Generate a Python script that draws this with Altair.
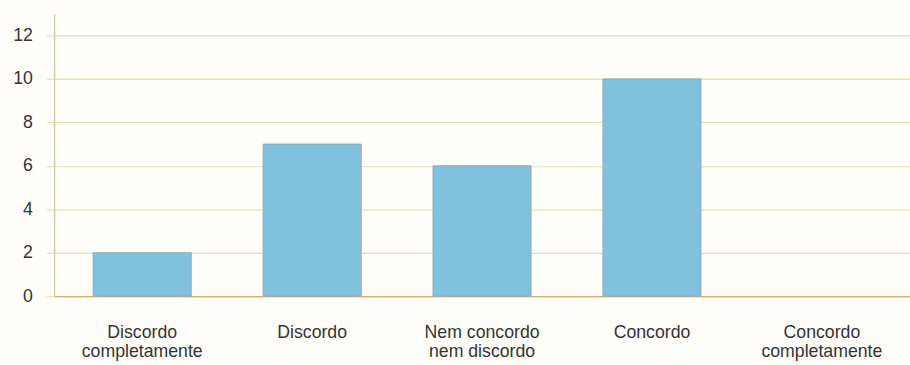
import altair as alt
import pandas as pd

categories = ["Discordo|completamente", "Discordo", "Nem concordo|nem discordo", "Concordo", "Concordo|completamente"]
values = [2, 7, 6, 10, 0]

df = pd.DataFrame({"cat": categories, "val": values})

bars = alt.Chart(df).mark_bar(
    color="#80c1de", strokeWidth=1
).encode(
    x=alt.X("cat:N", sort=categories, title=None,
            scale=alt.Scale(paddingInner=0.423, paddingOuter=0.23),
            axis=alt.Axis(labelAngle=0, labelExpr="split(datum.label, '|')",
                          labelFontSize=18, labelColor="#333333", labelFont="Liberation Sans",
                          labelLineHeight=19, labelPadding=28, ticks=False,
                          domainColor="#e2a86a", domainWidth=1.5, grid=False)),
    y=alt.Y("val:Q", title=None,
            scale=alt.Scale(domain=[0, 13], nice=False),
            axis=alt.Axis(values=[0, 2, 4, 6, 8, 10, 12], labelFontSize=18, labelColor="#333333",
                          labelFont="Liberation Sans", labelPadding=14, tickSize=8,
                          tickColor="#e4d9b4", domainColor="#d9cc9c", domainWidth=1.5,
                          gridColor="#e8ddb8", gridWidth=1.2)),
    stroke=alt.condition("datum.val > 0", alt.value("#8fa9b3"), alt.value(None)),
)

chart = bars.properties(
    width=870, height=287,
    autosize="none",
    padding={"left": 55, "top": 11, "right": 0, "bottom": 67},
    background="#fffefb",
).configure_view(stroke=None)

chart.save("out.html", embed_options={"renderer": "svg", "actions": False})
